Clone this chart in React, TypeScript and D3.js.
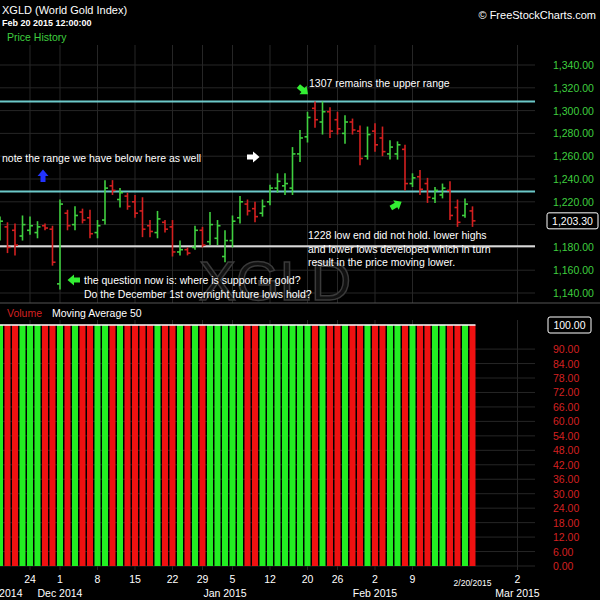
import React from "react";
import * as d3 from "d3";

const DATES = [
  "2014-11-18","2014-11-19","2014-11-20","2014-11-21","2014-11-24","2014-11-25","2014-11-26","2014-11-28",
  "2014-12-01","2014-12-02","2014-12-03","2014-12-04","2014-12-05","2014-12-08","2014-12-09","2014-12-10",
  "2014-12-11","2014-12-12","2014-12-15","2014-12-16","2014-12-17","2014-12-18","2014-12-19","2014-12-22",
  "2014-12-23","2014-12-24","2014-12-26","2014-12-29","2014-12-30","2014-12-31","2015-01-02","2015-01-05",
  "2015-01-06","2015-01-07","2015-01-08","2015-01-09","2015-01-12","2015-01-13","2015-01-14","2015-01-15",
  "2015-01-16","2015-01-20","2015-01-21","2015-01-22","2015-01-23","2015-01-26","2015-01-27","2015-01-28",
  "2015-01-29","2015-01-30","2015-02-02","2015-02-03","2015-02-04","2015-02-05","2015-02-06","2015-02-09",
  "2015-02-10","2015-02-11","2015-02-12","2015-02-13","2015-02-17","2015-02-18","2015-02-19","2015-02-20",
];
const FUTURE_DATES = ["2015-02-23","2015-02-24","2015-02-25","2015-02-26","2015-02-27","2015-03-02","2015-03-03","2015-03-04"];

const OPEN = [
  1190,1198,1195,1190,
  1195,1193,1199,1196,1148,1210,1200,1211,1206,1193,
  1204,1234,1222,1225,1220,1212,1199,1193,1202,1198,
  1176,1178,1180,1195,1185,1188,1172,1186,1206,1218,
  1214,1210,1220,1232,1234,1232,1262,1277,1302,1290,
  1299,1292,1280,1290,1282,1260,1282,1276,1262,1262,
  1266,1236,1242,1236,1223,1226,1230,1215,1208,1212,
];
const HIGH = [
  1207,1202,1201,1208,
  1207,1203,1201,1199,1222,1213,1216,1214,1213,1204,
  1239,1239,1232,1228,1226,1224,1204,1212,1204,1204,
  1186,1180,1199,1198,1211,1204,1195,1208,1225,1222,
  1220,1222,1235,1245,1245,1268,1283,1299,1308,1308,
  1303,1299,1296,1293,1287,1286,1289,1286,1274,1273,
  1270,1245,1248,1241,1233,1236,1238,1222,1223,1216,
];
const LOW = [
  1186,1175,1173,1186,
  1191,1188,1195,1164,1143,1195,1195,1201,1188,1188,
  1200,1226,1215,1213,1206,1189,1189,1188,1193,1172,
  1173,1173,1178,1180,1182,1182,1167,1180,1201,1208,
  1202,1207,1217,1228,1226,1226,1255,1272,1285,1279,
  1276,1279,1271,1279,1252,1257,1264,1260,1257,1257,
  1230,1233,1226,1219,1219,1223,1204,1198,1206,1198,
];
const CLOSE = [
  1203,1180,1182,1200,
  1199,1198,1197,1167,1218,1199,1208,1204,1192,1199,
  1232,1230,1228,1216,1210,1196,1194,1205,1196,1176,
  1178,1175,1195,1182,1200,1199,1186,1203,1220,1212,
  1207,1216,1232,1238,1236,1262,1276,1294,1292,1299,
  1282,1284,1290,1283,1258,1279,1270,1264,1268,1270,
  1236,1241,1231,1224,1230,1232,1208,1202,1218,1203.3,
];
const VOLUME = [
  100,100,100,100,100,100,100,100,100,100,100,100,100,100,100,100,
  100,100,100,100,100,100,100,100,100,100,100,100,100,100,100,100,
  100,100,100,100,100,100,100,100,100,100,100,100,100,100,100,100,
  100,100,100,100,100,100,100,100,100,100,100,100,100,100,100,100,
];

const PRICE_TICKS = [1140, 1160, 1180, 1200, 1220, 1240, 1260, 1280, 1300, 1320, 1340];
const PRICE_TICK_LABELS = ["1,140.00","1,160.00","1,180.00","1,200.00","1,220.00","1,240.00","1,260.00","1,280.00","1,300.00","1,320.00","1,340.00"];
const LAST_PRICE = 1203.3;
const LAST_PRICE_LABEL = "1,203.30";
const VOLUME_TICKS = [0, 6, 12, 18, 24, 30, 36, 42, 48, 54, 60, 66, 72, 78, 84, 90];
const VOLUME_TOP = 100;
const VOLUME_TOP_LABEL = "100.00";
const LEVELS_CYAN = [1308, 1229];
const LEVEL_WHITE = 1181;

const DAY_TICK_DATES = ["2014-11-24","2014-12-01","2014-12-08","2014-12-15","2014-12-22","2014-12-29","2015-01-05","2015-01-12","2015-01-20","2015-01-26","2015-02-02","2015-02-09","2015-03-02"];
const DAY_TICK_LABELS = ["24","1","8","15","22","29","5","12","20","26","2","9","2"];
const MONTH_DATES = ["2014-11-18","2014-12-01","2015-01-02","2015-02-02","2015-03-02"];
const MONTH_LABELS = ["Nov 2014","Dec 2014","Jan 2015","Feb 2015","Mar 2015"];
const CURSOR_DATE = "2015-02-20";
const CURSOR_LABEL = "2/20/2015";

const FONT = "'Liberation Sans', Arial, sans-serif";
const GREEN = "#3fcf3f";
const RED = "#d42020";
const VGREEN = "#22ee22";
const VRED = "#ee1111";
const GRID = "#262626";

const ALL_DATES = DATES.concat(FUTURE_DATES);

const Arrow = ({ x, y, rot, color }: { x: number; y: number; rot: number; color: string }) => (
  <path
    d="M-6,-2.5 L0,-2.5 L0,-5.5 L6.5,0 L0,5.5 L0,2.5 L-6,2.5 Z"
    transform={`translate(${x},${y}) rotate(${rot})`}
    fill={color}
  />
);

export default function App() {
  const W = 600, H = 600;
  const plotRight = 535;
  const x = d3.scaleLinear().domain([0, 63]).range([0, 472.5]);
  const y = d3.scaleLinear().domain([1140, 1340]).range([293, 65]);
  const yv = d3.scaleLinear().domain([0, 100]).range([566, 325]);
  const xi = (d: string) => x(ALL_DATES.indexOf(d));

  const priceTop = 45, priceBottom = 303, volTop = 320, volBottom = 570;

  const bars = DATES.map((d, i) => ({
    d, o: OPEN[i], h: HIGH[i], l: LOW[i], c: CLOSE[i], v: VOLUME[i],
    up: CLOSE[i] >= OPEN[i],
  }));

  const annText = { fill: "#fff", fontFamily: FONT, fontSize: 10.5 } as const;

  return (
    <svg width={W} height={H} style={{ position: "absolute", left: 0, top: 0, background: "#000" }}>
      <rect x={0} y={0} width={W} height={H} fill="#000" />
      {/* header */}
      <text x={2} y={14} fill="#fff" fontFamily={FONT} fontSize={11}>XGLD (World Gold Index)</text>
      <text x={2} y={26} fill="#fff" fontFamily={FONT} fontSize={9} fontWeight="bold">Feb 20 2015 12:00:00</text>
      <text x={7} y={41} fill={GREEN} fontFamily={FONT} fontSize={10.5}>Price History</text>
      <text x={596} y={19} fill="#fff" fontFamily={FONT} fontSize={11} textAnchor="end">© FreeStockCharts.com</text>

      {/* grid: price panel */}
      {PRICE_TICKS.map((t) => (
        <line key={"pg" + t} x1={0} x2={plotRight} y1={y(t)} y2={y(t)} stroke={GRID} strokeWidth={1} />
      ))}
      {DAY_TICK_DATES.map((d, i) => (
        <g key={"vg" + i}>
          <line x1={xi(d)} x2={xi(d)} y1={priceTop} y2={priceBottom} stroke={GRID} strokeWidth={1} />
          <line x1={xi(d)} x2={xi(d)} y1={volTop} y2={volBottom} stroke={GRID} strokeWidth={1} />
        </g>
      ))}
      {VOLUME_TICKS.map((t) => (
        <line key={"vgh" + t} x1={0} x2={plotRight} y1={yv(t)} y2={yv(t)} stroke={GRID} strokeWidth={1} />
      ))}

      {/* watermark */}
      <text x={275} y={300} textAnchor="middle" fontFamily={FONT} fontSize={56} fill="#111" stroke="#3a3a3a" strokeWidth={1.5}>XGLD</text>

      {/* level lines */}
      {LEVELS_CYAN.map((v) => (
        <line key={"lv" + v} x1={0} x2={plotRight} y1={y(v)} y2={y(v)} stroke="#6cc9c9" strokeWidth={2} />
      ))}
      <line x1={0} x2={plotRight} y1={y(LEVEL_WHITE)} y2={y(LEVEL_WHITE)} stroke="#d8d8d8" strokeWidth={2} />

      {/* OHLC bars */}
      {bars.map((b, i) => {
        const cx = xi(b.d);
        const col = b.up ? GREEN : RED;
        return (
          <g key={"b" + i} stroke={col} strokeWidth={1.6}>
            <line x1={cx} x2={cx} y1={y(b.h)} y2={y(b.l)} />
            <line x1={cx - 3} x2={cx} y1={y(b.o)} y2={y(b.o)} />
            <line x1={cx} x2={cx + 3} y1={y(b.c)} y2={y(b.c)} />
          </g>
        );
      })}

      {/* annotations */}
      <Arrow x={303} y={90} rot={40} color="#33ee33" />
      <text x={309} y={87} {...annText}>1307 remains the upper range</text>
      <text x={2} y={162} {...annText}>note the range we have below here as well</text>
      <Arrow x={253} y={157} rot={0} color="#ffffff" />
      <Arrow x={43} y={176} rot={-90} color="#2233ff" />
      <Arrow x={396} y={205} rot={-30} color="#33ee33" />
      <text x={308} y={239} {...annText}>1228 low end did not hold. lower highs</text>
      <text x={308} y={253} {...annText}>and lower lows developed which in turn</text>
      <text x={308} y={266} {...annText}>result in the price moving lower.</text>
      <Arrow x={74} y={280} rot={180} color="#33ee33" />
      <text x={84} y={284} {...annText}>the question now is: where is support for gold?</text>
      <text x={84} y={298} {...annText}>Do the December 1st overnight future lows hold?</text>

      {/* price axis labels (the one hidden by the last-price box is skipped) */}
      {PRICE_TICKS.map((t, i) =>
        Math.abs(y(t) - y(LAST_PRICE)) < 12 ? null : (
          <text key={"pl" + t} x={553} y={y(t) + 4} fill={GREEN} fontFamily={FONT} fontSize={10.5}>{PRICE_TICK_LABELS[i]}</text>
        )
      )}
      <rect x={547} y={y(LAST_PRICE) - 8} width={51} height={16} rx={2} fill="#000" stroke="#fff" strokeWidth={1} />
      <text x={572.5} y={y(LAST_PRICE) + 4} fill="#fff" fontFamily={FONT} fontSize={10.5} textAnchor="middle">{LAST_PRICE_LABEL}</text>

      {/* panel separator */}
      <line x1={0} x2={W} y1={priceBottom} y2={priceBottom} stroke="#555" strokeWidth={1} />
      <text x={7} y={317} fill={RED} fontFamily={FONT} fontSize={10.5}>Volume</text>
      <text x={52} y={317} fill="#fff" fontFamily={FONT} fontSize={10.5}>Moving Average 50</text>

      {/* volume bars */}
      {bars.map((b, i) => {
        const cx = xi(b.d);
        return (
          <rect key={"v" + i} x={cx - 3} y={yv(b.v)} width={6} height={yv(0) - yv(b.v)} fill={b.up ? VGREEN : VRED} />
        );
      })}
      <line x1={0} x2={xi(DATES[DATES.length - 1]) + 3} y1={yv(VOLUME_TOP)} y2={yv(VOLUME_TOP)} stroke="#fff" strokeWidth={1.5} />

      {/* volume axis labels */}
      {VOLUME_TICKS.map((t) => (
        <text key={"vl" + t} x={553} y={yv(t) + 4} fill={RED} fontFamily={FONT} fontSize={10.5}>{t.toFixed(2)}</text>
      ))}
      <rect x={548} y={yv(VOLUME_TOP) - 8} width={43} height={16} rx={2} fill="#000" stroke="#fff" strokeWidth={1} />
      <text x={569.5} y={yv(VOLUME_TOP) + 4} fill="#fff" fontFamily={FONT} fontSize={10.5} textAnchor="middle">{VOLUME_TOP_LABEL}</text>

      {/* x axis */}
      {DAY_TICK_DATES.map((d, i) => (
        <text key={"dt" + i} x={xi(d)} y={583} fill="#fff" fontFamily={FONT} fontSize={10.5} textAnchor="middle">{DAY_TICK_LABELS[i]}</text>
      ))}
      <text x={xi(CURSOR_DATE)} y={586} fill="#fff" fontFamily={FONT} fontSize={8.5} textAnchor="middle">{CURSOR_LABEL}</text>
      {MONTH_DATES.map((d, i) => (
        <text key={"mt" + i} x={xi(d)} y={597} fill="#fff" fontFamily={FONT} fontSize={10.5} textAnchor="middle">{MONTH_LABELS[i]}</text>
      ))}
    </svg>
  );
}
